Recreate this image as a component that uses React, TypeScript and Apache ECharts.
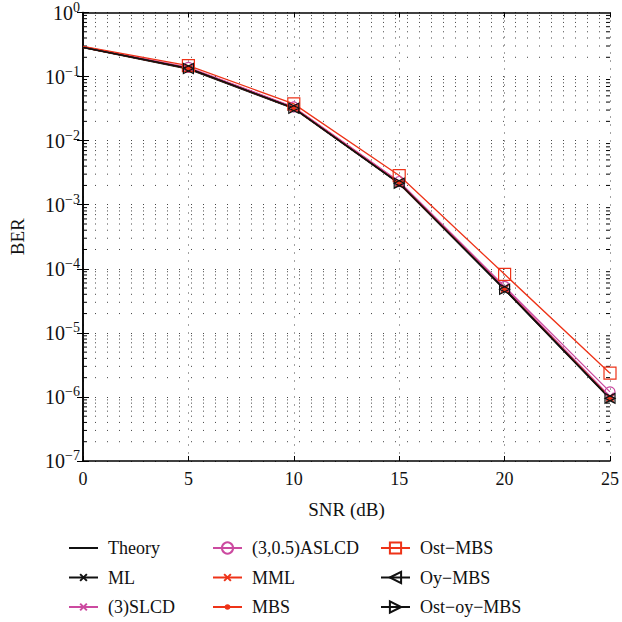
import React, { useEffect, useRef } from "react";
import * as echarts from "echarts";

// SNR points (dB)
const snr = [0, 5, 10, 15, 20, 25];

// BER curves
const theory = [0.283, 0.131, 0.0315, 2.12e-3, 4.7e-5, 9.3e-7];
const ml = [0.285, 0.133, 0.032, 2.16e-3, 4.8e-5, 9.5e-7];
const slcd3 = [0.29, 0.137, 0.033, 2.25e-3, 5.1e-5, 1.02e-6];
const aslcd = [0.292, 0.139, 0.0335, 2.3e-3, 5.3e-5, 1.2e-6];
const mml = [0.286, 0.134, 0.0322, 2.18e-3, 4.85e-5, 9.7e-7];
const mbs = [0.286, 0.134, 0.0322, 2.18e-3, 4.85e-5, 9.6e-7];
const ostMbs = [0.297, 0.148, 0.0375, 2.85e-3, 8.2e-5, 2.35e-6];
const oyMbs = [0.286, 0.134, 0.0321, 2.17e-3, 4.8e-5, 9.5e-7];
const ostOyMbs = [0.286, 0.134, 0.0321, 2.17e-3, 4.8e-5, 9.5e-7];

const legendCol1 = ["Theory", "ML", "(3)SLCD"];
const legendCol2 = ["(3,0.5)ASLCD", "MML", "MBS"];
const legendCol3 = ["Ost\u2212MBS", "Oy\u2212MBS", "Ost\u2212oy\u2212MBS"];

// minor decade positions 2..9 x 10^k for the log axis
const minorTicks: number[] = [];
for (let k = -7; k < 0; k++) {
  for (let m = 2; m <= 9; m++) minorTicks.push(m * Math.pow(10, k));
}

const BLACK = "#111111";
const MAGENTA = "#cc4aa0";
const RED = "#ee3318";
const FONT = "Liberation Serif";
// padded symbol paths: the leading moves set a 10x10 box so the glyph stays small
const CROSS = "path://M0,0M10,10M2,2L8,8M8,2L2,8";
const DOT = "path://M0,0M10,10M3.4,5A1.6,1.6 0 1 1 6.6,5A1.6,1.6 0 1 1 3.4,5Z";

function lineSeries(
  name: string,
  values: number[],
  color: string,
  symbol: string,
  symbolSize: number,
  extra: any = {}
) {
  const noMarker = symbol === "none";
  return {
    name,
    type: "line",
    // markers start at the second point; the 0 dB point carries only the line
    data: snr.map((x, i) =>
      i === 0 ? { value: [x, values[i]], symbol: "none" } : [x, values[i]]
    ),
    symbol: noMarker ? "circle" : symbol,
    symbolSize: noMarker ? 0 : symbolSize,
    showSymbol: !noMarker,
    lineStyle: { color, width: 1.3 },
    itemStyle: noMarker
      ? { color: "rgba(0,0,0,0)", borderColor: "rgba(0,0,0,0)", borderWidth: 0 }
      : {
          color: extra.fill ?? "rgba(0,0,0,0)",
          borderColor: color,
          borderWidth: 1.2,
        },
    symbolRotate: extra.rotate ?? 0,
    z: extra.z ?? 3,
    emphasis: { disabled: true },
  };
}

function legend(names: string[], left: number) {
  return {
    orient: "vertical",
    left,
    top: 539,
    height: 100,
    padding: 0,
    itemWidth: 29,
    itemHeight: 14,
    itemGap: 11.5,
    data: names,
    selectedMode: false,
    textStyle: {
      fontFamily: FONT,
      fontSize: 18,
      color: "#111",
      padding: [0, 0, 0, 5],
    },
  };
}

export default function App() {
  const ref = useRef<HTMLDivElement>(null);

  useEffect(() => {
    document.body.style.margin = "0";
    const chart = echarts.init(ref.current!, null, { renderer: "svg" });

    const supFmt = (v: number) => {
      const e = Math.round(Math.log10(v));
      return e === 0 ? "10{s|0}" : `10{s|\u2212${-e}}`;
    };

    chart.setOption({
      animation: false,
      backgroundColor: "#ffffff",
      grid: { left: 80, right: 10, top: 11, bottom: 161 },
      legend: [legend(legendCol1, 68), legend(legendCol2, 212), legend(legendCol3, 380)],
      xAxis: [
        {
          type: "value",
          min: 0,
          max: 25,
          interval: 5,
          name: "SNR (dB)",
          nameLocation: "middle",
          nameGap: 39,
          nameTextStyle: { fontFamily: FONT, fontSize: 19, color: "#111" },
          axisLine: { lineStyle: { color: "#000", width: 1.5 } },
          axisTick: { inside: true, length: 5, lineStyle: { color: "#000" } },
          axisLabel: { fontFamily: FONT, fontSize: 18, color: "#111", margin: 9 },
          splitLine: {
            show: true,
            lineStyle: { color: "#444", width: 1, type: [1, 7] },
          },
        },
        {
          type: "value",
          position: "top",
          min: 0,
          max: 25,
          interval: 5,
          axisLine: { lineStyle: { color: "#000", width: 1.5 } },
          axisTick: { inside: true, length: 5, lineStyle: { color: "#000" } },
          axisLabel: { show: false },
          splitLine: { show: false },
        },
      ],
      yAxis: [
        {
          type: "log",
          logBase: 10,
          min: 1e-7,
          max: 1,
          interval: 1,
          name: "BER",
          nameLocation: "middle",
          nameGap: 56,
          nameTextStyle: { fontFamily: FONT, fontSize: 19, color: "#111" },
          axisLine: { lineStyle: { color: "#000", width: 1.5 } },
          axisTick: { inside: true, length: 6, lineStyle: { color: "#000" } },
          axisLabel: {
            formatter: supFmt,
            fontFamily: FONT,
            fontSize: 20,
            color: "#111",
            margin: 3,
            rich: {
              s: {
                fontFamily: FONT,
                fontSize: 14,
                color: "#111",
                padding: [0, 0, 11, 0],
              },
            },
          },
          splitLine: {
            show: true,
            lineStyle: { color: "#444", width: 1, type: [1, 11] },
          },
        },
        {
          type: "log",
          logBase: 10,
          position: "right",
          min: 1e-7,
          max: 1,
          interval: 1,
          axisLine: { show: true, lineStyle: { color: "#000", width: 1.5 } },
          axisTick: { inside: true, length: 6, lineStyle: { color: "#000" } },
          axisLabel: { show: false },
          splitLine: { show: false },
        },
      ],
      series: [
        {
          name: "minor-grid",
          type: "custom",
          silent: true,
          z: 1,
          xAxisIndex: 0,
          yAxisIndex: 0,
          encode: { x: 0, y: 1 },
          data: minorTicks.map((v) => [0, v]),
          renderItem: (params: any, api: any) => {
            const cs = params.coordSys;
            const y = api.coord([0, api.value(1)])[1];
            const x0 = cs.x;
            const x1 = cs.x + cs.width;
            return {
              type: "group",
              children: [
                {
                  type: "line",
                  shape: { x1: x0, y1: y, x2: x1, y2: y },
                  style: { stroke: "#444", lineWidth: 1, lineDash: [1, 11] },
                },
                {
                  type: "line",
                  shape: { x1: x0, y1: y, x2: x0 + 4, y2: y },
                  style: { stroke: "#000", lineWidth: 1 },
                },
                {
                  type: "line",
                  shape: { x1: x1 - 4, y1: y, x2: x1, y2: y },
                  style: { stroke: "#000", lineWidth: 1 },
                },
              ],
            };
          },
        },
        lineSeries("Theory", theory, BLACK, "none", 0),
        lineSeries("ML", ml, BLACK, CROSS, 12),
        lineSeries("(3)SLCD", slcd3, MAGENTA, CROSS, 12),
        lineSeries("(3,0.5)ASLCD", aslcd, MAGENTA, "circle", 10),
        lineSeries("MML", mml, RED, CROSS, 12),
        lineSeries("MBS", mbs, RED, DOT, 13, { fill: RED }),
        lineSeries("Ost\u2212MBS", ostMbs, RED, "rect", 12),
        lineSeries("Oy\u2212MBS", oyMbs, BLACK, "triangle", 10, { rotate: 90 }),
        lineSeries("Ost\u2212oy\u2212MBS", ostOyMbs, BLACK, "triangle", 10, { rotate: -90 }),
      ],
    });

    return () => chart.dispose();
  }, []);

  return <div ref={ref} style={{ width: 622, height: 622 }} />;
}
